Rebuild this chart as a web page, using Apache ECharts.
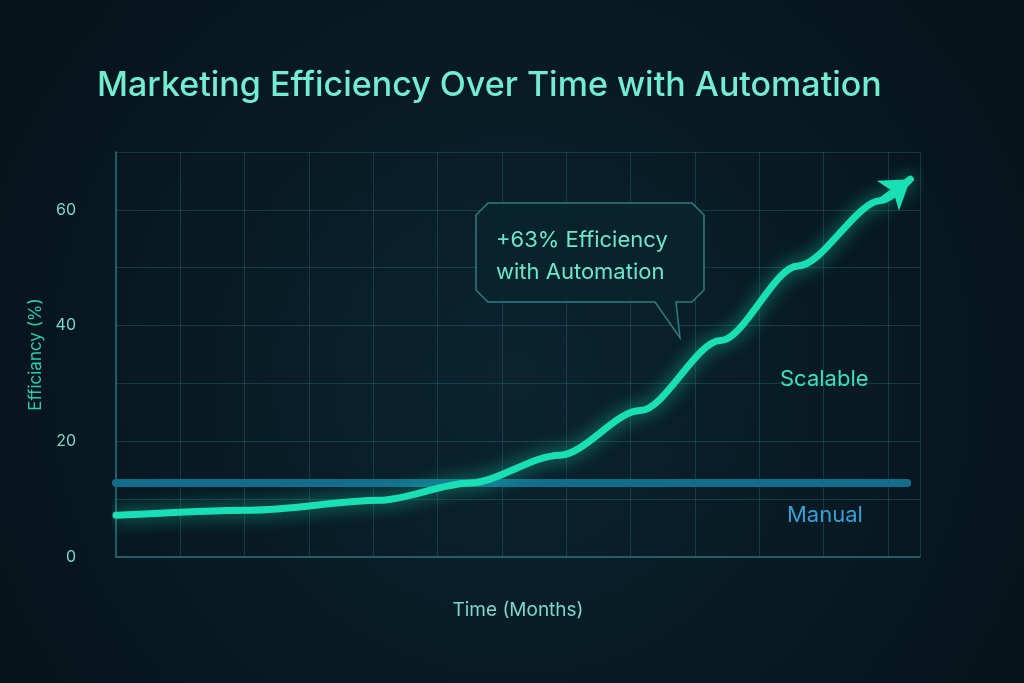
<!DOCTYPE html>
<html>
<head>
<meta charset="utf-8">
<script src="https://cdn.jsdelivr.net/npm/echarts@6/dist/echarts.min.js"></script>
<style>
  html, body { margin: 0; padding: 0; background: #071822; }
  #chart { width: 1024px; height: 683px; }
</style>
</head>
<body>
<div id="chart"></div>
<script>
// ── data ─────────────────────────────
const months = [0, 2.1, 4.1, 5.5, 6.9, 8.15, 9.4, 10.6, 11.9, 12.35];
const scalable = [7.2, 8.1, 9.8, 12.8, 17.6, 25.3, 37.4, 50.3, 61.6, 65.3];
const manualX = [0, 12.3];
const manualY = [12.8, 12.8];
const yTicks = [0, 20, 40, 60];

const chart = echarts.init(document.getElementById("chart"));
const teal = "#19e0b4";
const n = months.length;

chart.setOption({
  backgroundColor: {
    type: "radial", x: 0.5, y: 0.55, r: 0.8,
    colorStops: [{ offset: 0, color: "#0b2430" }, { offset: 1, color: "#06141c" }],
  },
  title: {
    text: "Marketing Efficiency Over Time with Automation",
    left: 92, top: 64,
    textStyle: { color: "#74ecd0", fontSize: 34, fontWeight: 500, fontFamily: "Inter" },
  },
  grid: { left: 116, right: 104, top: 152, bottom: 126 },
  xAxis: {
    type: "value", min: 0, max: 12.5, interval: 1,
    name: "Time (Months)", nameLocation: "middle", nameGap: 44,
    nameTextStyle: { color: "#7fd6cc", fontSize: 19, fontFamily: "Inter" },
    axisLabel: { show: false }, axisTick: { show: false },
    axisLine: { lineStyle: { color: "#2a6f78", width: 1.5 } },
    splitLine: { lineStyle: { color: "rgba(60,140,150,0.28)" } },
  },
  yAxis: {
    type: "value", min: 0, max: 70, interval: 10,
    name: "Efficiancy (%)", nameLocation: "middle", nameGap: 66,
    nameTextStyle: { color: "#2fc8b0", fontSize: 17, fontFamily: "Inter" },
    axisLabel: {
      color: "#7fd6cc", fontSize: 16, margin: 40, fontFamily: "Inter",
      formatter: v => (yTicks.includes(v) ? String(v) : ""),
    },
    axisTick: { show: false },
    axisLine: { show: true, lineStyle: { color: "#2a6f78", width: 1.5 } },
    splitLine: { lineStyle: { color: "rgba(60,140,150,0.28)" } },
  },
  series: [
    {
      type: "line", name: "Manual",
      data: manualX.map((x, i) => [x, manualY[i]]),
      symbol: "none",
      lineStyle: { color: "#146c8c", width: 8, cap: "round" },
      z: 2,
    },
    {
      type: "line", name: "Scalable",
      data: months.map((m, i) => [m, scalable[i]]),
      smooth: 0.3, smoothMonotone: "x",
      symbol: "none",
      lineStyle: { color: teal, width: 7, shadowColor: "rgba(25,224,180,0.7)", shadowBlur: 18, cap: "round" },
      z: 3,
    },
    {
      // arrow head on the last segment
      type: "lines", coordinateSystem: "cartesian2d", z: 4,
      symbol: ["none", "arrow"], symbolSize: 28,
      lineStyle: { color: teal, width: 7, opacity: 1 },
      data: [{ coords: [[months[n - 2], scalable[n - 2]], [months[n - 1], scalable[n - 1]]] }],
    },
  ],
  graphic: [
    { type: "text", left: 780, top: 368, style: { text: "Scalable", fill: "#3fe0bc", font: "22px Inter" } },
    { type: "text", left: 787, top: 504, style: { text: "Manual", fill: "#3a9ed6", font: "22px Inter" } },
    {
      type: "polygon", z: 10,
      shape: { points: [[488, 203], [692, 203], [704, 215], [704, 290], [692, 302], [676, 302], [680, 338], [655, 302], [488, 302], [476, 290], [476, 215]] },
      style: { fill: "rgba(10,36,44,0.92)", stroke: "#2f7c80", lineWidth: 1.5 },
    },
    {
      type: "text", z: 11, left: 496, top: 224,
      style: { text: "+63% Efficiency\nwith Automation", fill: "#6fe6cc", font: "22px Inter", lineHeight: 32, align: "center", x: 94 },
    },
  ],
});
</script>
</body>
</html>
